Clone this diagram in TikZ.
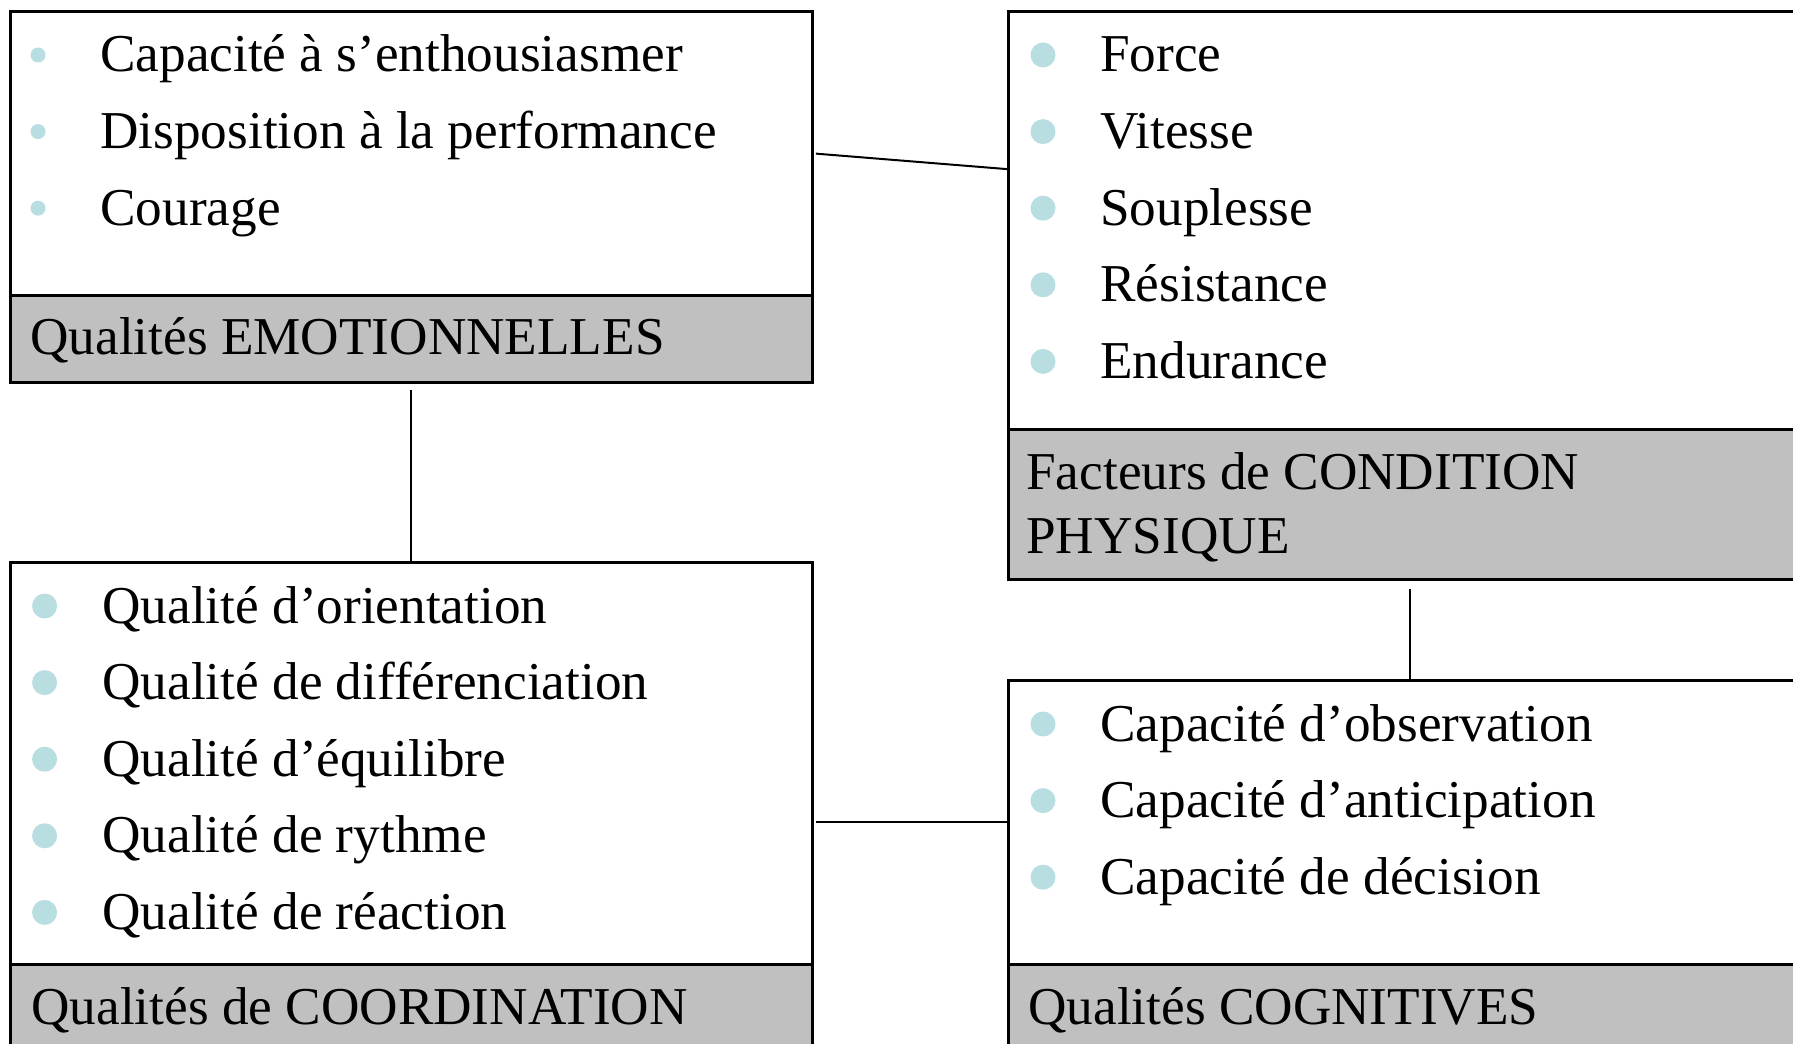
\documentclass[tikz,border=0pt]{standalone}
\usepackage{fontspec}
\setmainfont{Liberation Serif}
\usepackage{tikz}
\usetikzlibrary{positioning,calc}
\usepackage{xcolor}
\definecolor{bandgrey}{RGB}{192,192,192}
\definecolor{bulletblue}{RGB}{184,222,226}
\newcommand{\itemfont}{\fontsize{30.3pt}{36.4pt}\selectfont}
\tikzset{
  panel/.style={draw=black,line width=.06cm,fill=white,inner sep=0pt,
                anchor=north west},
  band/.style={panel,fill=bandgrey},
  itemtxt/.style={anchor=base west,inner sep=0pt,font=\itemfont},
  bandtxt/.style={itemtxt,align=left},
  link/.style={draw=black,line width=.04cm},
}
\begin{document}
\begin{tikzpicture}[x=0.02cm,y=-0.02cm]
  \useasboundingbox (0,0) rectangle (1793,1044);
  \clip (0,0) rectangle (1793,1044);
  % ---------------- panels ----------------
  \node[panel,minimum width=16.04cm,minimum height=5.68cm] (emoBox)   at (9,10)    {};
  \node[band, minimum width=16.04cm,minimum height=1.74cm] (emoBand)  at (9,294)   {};
  \node[panel,minimum width=16.08cm,minimum height=8.36cm] (physBox)  at (1007,10) {};
  \node[band, minimum width=16.08cm,minimum height=3.00cm] (physBand) at (1007,428){};
  \node[panel,minimum width=16.04cm,minimum height=8.04cm] (coordBox) at (9,561)   {};
  \node[band, minimum width=16.04cm,minimum height=2.00cm] (coordBand)at (9,963)   {};
  \node[panel,minimum width=16.08cm,minimum height=5.68cm] (cogBox)   at (1007,679){};
  \node[band, minimum width=16.08cm,minimum height=2.00cm] (cogBand)  at (1007,963){};
  % ---------------- titles ----------------
  \node[bandtxt] (emoTitle)   at (30,355)   {Qualités EMOTIONNELLES};
  \node[bandtxt] (physTitle)  at (1026,553) {Facteurs de CONDITION\\PHYSIQUE};
  \node[bandtxt] (coordTitle) at (31,1024)  {Qualités de COORDINATION};
  \node[bandtxt] (cogTitle)   at (1028,1024){Qualités COGNITIVES};
  % ---------------- items ----------------
  \foreach \t [count=\i] in {Capacité à s’enthousiasmer,Disposition à la performance,Courage}{
    \node[itemtxt] (emo\i) at (100,{72+76.6*(\i-1)}) {\t};
    \fill[bulletblue] (38,{55+76.6*(\i-1)}) circle[radius=.15cm];}
  \foreach \t [count=\i] in {Force,Vitesse,Souplesse,Résistance,Endurance}{
    \node[itemtxt] (phys\i) at (1100,{72+76.6*(\i-1)}) {\t};
    \fill[bulletblue] (1043,{55+76.6*(\i-1)}) circle[radius=.25cm];}
  \foreach \t [count=\i] in {Qualité d’orientation,Qualité de différenciation,
      Qualité d’équilibre,Qualité de rythme,Qualité de réaction}{
    \node[itemtxt] (coord\i) at (102,{623+76.6*(\i-1)}) {\t};
    \fill[bulletblue] (44.6,{606+76.6*(\i-1)}) circle[radius=.25cm];}
  \foreach \t [count=\i] in {Capacité d’observation,Capacité d’anticipation,Capacité de décision}{
    \node[itemtxt] (cog\i) at (1100,{741+76.6*(\i-1)}) {\t};
    \fill[bulletblue] (1043,{724+76.6*(\i-1)}) circle[radius=.25cm];}
  % ---------------- links ----------------
  \draw[link,shorten <=.04cm] (emoBox.east) -- ($(physBox.north west)!.378!(physBox.south west)$);
  \draw[link,shorten <=.12cm] (emoBand.south) -- (coordBox.north);
  \draw[link,shorten <=.16cm] (physBand.south) -- (cogBox.north);
  \draw[link,shorten <=.04cm] (coordBox.east |- cogBox.west) -- (cogBox.west);
\end{tikzpicture}
\end{document}
